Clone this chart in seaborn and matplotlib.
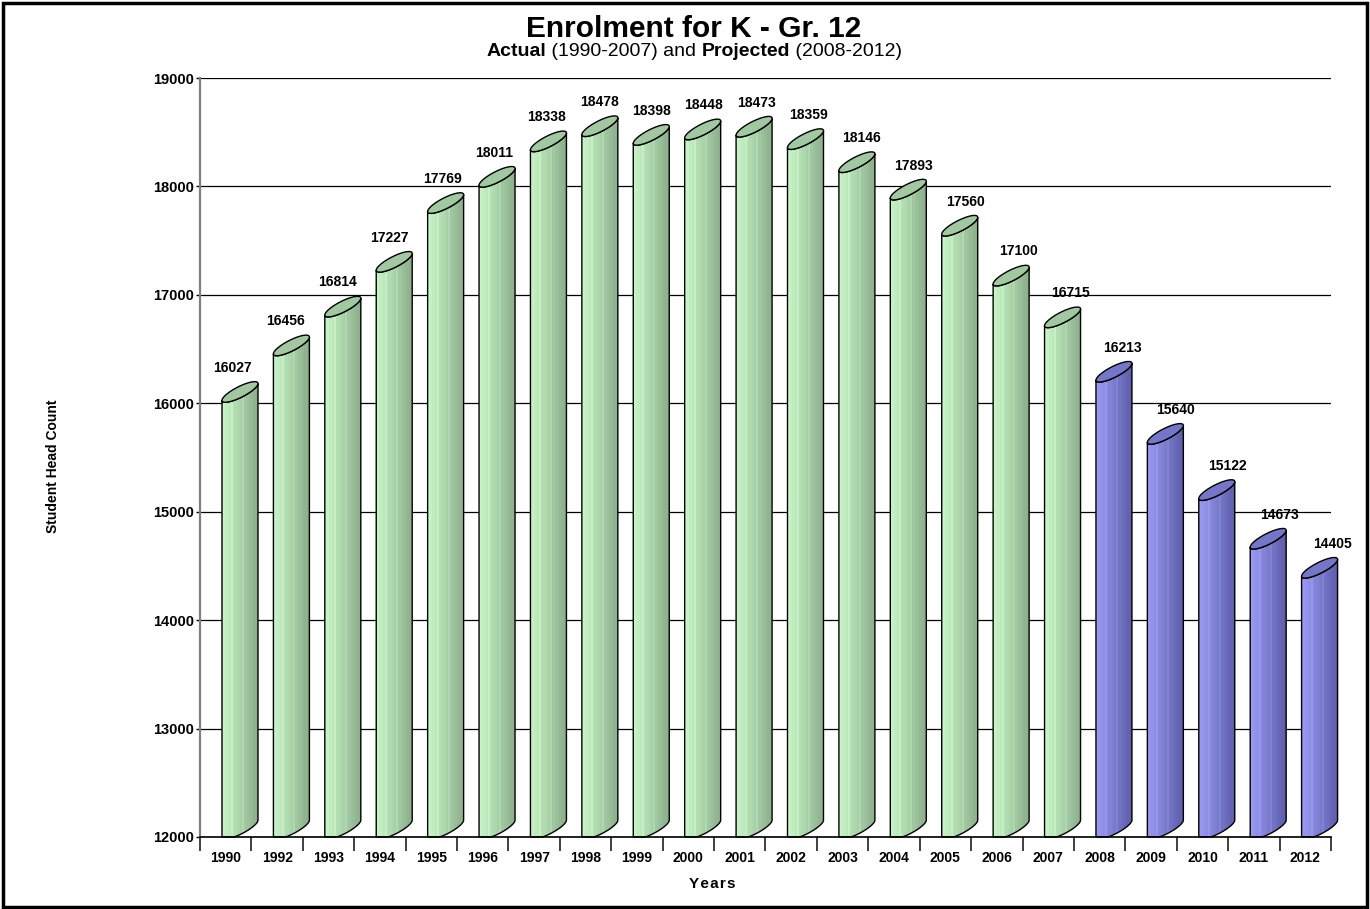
import numpy as np
import pandas as pd
import matplotlib
matplotlib.use("Agg")
import matplotlib.pyplot as plt
from matplotlib.patches import Polygon, Rectangle
from matplotlib.colors import to_rgb
import seaborn as sns

# ---------------- data ----------------
years = ["1990", "1992", "1993", "1994", "1995", "1996", "1997", "1998", "1999",
         "2000", "2001", "2002", "2003", "2004", "2005", "2006", "2007",
         "2008", "2009", "2010", "2011", "2012"]
counts = [16027, 16456, 16814, 17227, 17769, 18011, 18338, 18478, 18398,
          18448, 18473, 18359, 18146, 17893, 17560, 17100, 16715,
          16213, 15640, 15122, 14673, 14405]
kind = ["Actual"] * 17 + ["Projected"] * 5
y_ticks = [12000, 13000, 14000, 15000, 16000, 17000, 18000, 19000]

title = "Enrolment for K - Gr. 12"
x_label = "Years"
y_label = "Student Head Count"

# ---------------- style ----------------
sns.set_style("white")
plt.rcParams["font.family"] = ["Liberation Sans", "DejaVu Sans"]
for k in ("text.color", "axes.labelcolor", "xtick.color", "ytick.color"):
    plt.rcParams[k] = "black"

palette = {"Actual": "#b4e4b4", "Projected": "#8888e8"}
face_left = {"Actual": "#c8f6c8", "Projected": "#9a9af4"}
face_right = {"Actual": "#8cb08c", "Projected": "#5e5eac"}
top_col = {"Actual": "#a2c8a2", "Projected": "#7676c8"}

df = pd.DataFrame({"Year": years, "Count": counts, "Type": kind})

fig = plt.figure(figsize=(13.7, 9.09), dpi=100)
ax = fig.add_axes([200 / 1370, 1 - 837 / 909, 1131 / 1370, 759 / 909])

sns.barplot(data=df, x="Year", y="Count", hue="Type", palette=palette,
            dodge=False, width=0.70, legend=False, ax=ax, zorder=2)

y0, y1 = 12000, 19000
ax.set_ylim(y0, y1)
ax.set_xlim(-0.5, len(years) - 0.5)

# depth parameters (data units)
shift = 0.278      # 3-D offset of the front face to the right
d = 155.0          # rise of the top ellipse from left to right
e = 55.0           # half-thickness of the ellipse
nb = 16

def stripes(kind_name):
    c0 = np.array(to_rgb(face_left[kind_name]))
    c1 = np.array(to_rgb(face_right[kind_name]))
    t = np.linspace(0, 1, nb)
    cols = c0[None, :] * (1 - t[:, None]) + c1[None, :] * t[:, None]
    for k in (4, 9):
        cols[k] = np.clip(cols[k] + 0.05, 0, 1)
    return cols[None, :, :]

for p in list(ax.patches):
    w = p.get_width()
    h = p.get_height()
    if h <= 0:
        continue
    idx = int(round(p.get_x() + w / 2))
    v = counts[idx]
    kname = kind[idx]
    p.set_visible(False)
    x0 = p.get_x() + shift
    x1 = x0 + w
    cx, hw = (x0 + x1) / 2, w / 2
    t = np.linspace(np.pi, 2 * np.pi, 60)
    cyt = v + d / 2
    top_lo = np.column_stack([cx + hw * np.cos(t), cyt + d / 2 * np.cos(t) + e * np.sin(t)])
    cyb = y0 + d / 2
    bot_lo = np.column_stack([cx + hw * np.cos(t), cyb + d / 2 * np.cos(t) + e * np.sin(t)])
    bot_lo[:, 1] = np.maximum(bot_lo[:, 1], y0)
    face = np.vstack([[x0, y0], top_lo, bot_lo[::-1]])
    poly = Polygon(face, closed=True, facecolor="none", edgecolor="black",
                   lw=1.0, zorder=4, clip_on=False)
    ax.add_patch(poly)
    im = ax.imshow(stripes(kname), extent=(x0, x1, y0, v + d + 10),
                   aspect="auto", interpolation="nearest", zorder=3)
    clip = Polygon(face, closed=True, transform=ax.transData)
    im.set_clip_box(fig.bbox)
    im.set_clip_path(clip)
    tt = np.linspace(0, 2 * np.pi, 120)
    top = np.column_stack([cx + hw * np.cos(tt), cyt + d / 2 * np.cos(tt) + e * np.sin(tt)])
    ax.add_patch(Polygon(top, closed=True, facecolor=top_col[kname],
                         edgecolor="black", lw=1.0, zorder=5, clip_on=False))
    off = (7 + 20 * idx / 21) / 51.41
    ax.text(idx + off, v + 300, f"{v}", ha="center", va="center",
            fontsize=10, fontweight="bold", zorder=6, clip_on=False)

ax.set_aspect("auto")
ax.set_xlim(-0.5, len(years) - 0.5)
ax.set_ylim(y0, y1)

# grid / spines
ax.set_yticks(y_ticks)
ax.set_yticklabels([str(v) for v in y_ticks], fontsize=10.5, fontweight="bold")
ax.yaxis.grid(True, color="black", lw=0.9, zorder=0.5)
ax.xaxis.grid(False)
ax.set_axisbelow(True)
for s in ("top", "right"):
    ax.spines[s].set_visible(False)
ax.spines["left"].set_color("#808080")
ax.spines["left"].set_linewidth(1.6)
ax.spines["bottom"].set_color("black")
ax.spines["bottom"].set_linewidth(1.2)
ax.spines["bottom"].set_zorder(6)
ax.tick_params(axis="y", length=3, width=1, color="black", pad=1, left=True)

ax.set_xticks(range(len(years)))
ax.set_xticklabels(years, fontsize=10, fontweight="bold")
ax.set_xticks(np.arange(-0.5, len(years), 1.0), minor=True)
ax.tick_params(axis="x", which="major", length=0, pad=10)
ax.tick_params(axis="x", which="minor", length=10, width=1.2, color="#202020", bottom=True)

ax.set_xlabel("")
ax.set_ylabel("")
fig.text(712 / 1370, 1 - 884 / 909, "\u200a".join(x_label), ha="center", va="center",
         fontsize=11, fontweight="bold")
fig.text(53 / 1370, 1 - 466 / 909, y_label, ha="center", va="center",
         rotation=90, fontsize=10, fontweight="bold")

# titles
fig.text(694 / 1370, 1 - 29 / 909, title, ha="center", va="center",
         fontsize=21.5, fontweight="bold")

parts = [("Actual", "bold"), (" (1990-2007) and ", "normal"),
         ("Projected", "bold"), (" (2008-2012)", "normal")]
renderer = fig.canvas.get_renderer()
tmp = []
for s, wgt in parts:
    tt_ = fig.text(0, 0, s, fontsize=14, fontweight=wgt)
    tmp.append(tt_.get_window_extent(renderer).width)
    tt_.remove()
total = sum(tmp)
xpix = 694 - total / 2
ypos = 1 - 52 / 909
for (s, wgt), wpx in zip(parts, tmp):
    fig.text(xpix / 1370, ypos, s, fontsize=14, fontweight=wgt,
             ha="left", va="center")
    xpix += wpx

# figure border
fig.patches.append(Rectangle((0.002, 0.002), 0.996, 0.995, transform=fig.transFigure,
                             fill=False, edgecolor="black", lw=2.5))

fig.savefig("out.png", dpi=100)
